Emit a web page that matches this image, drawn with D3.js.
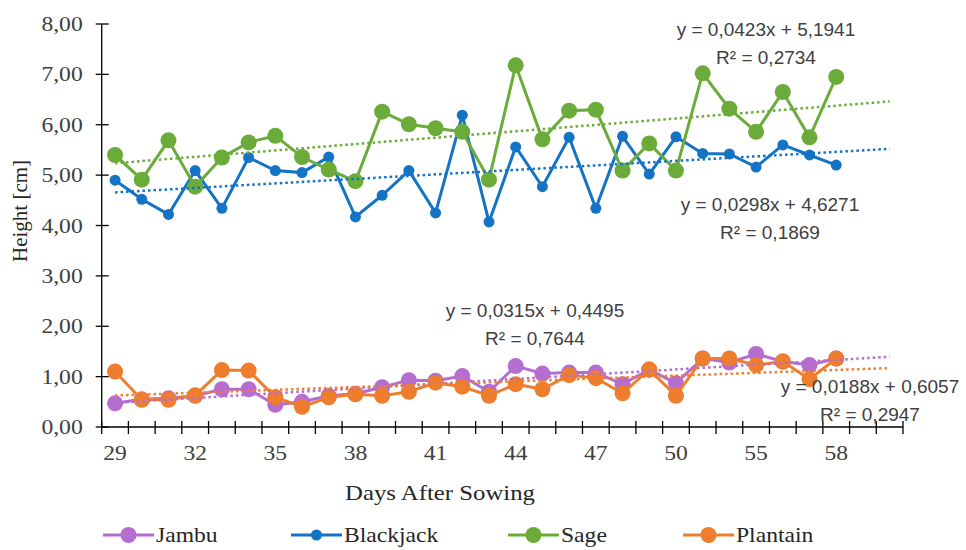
<!DOCTYPE html>
<html>
<head>
<meta charset="utf-8">
<script src="https://cdn.jsdelivr.net/npm/d3@7"></script>
<style>
  body { margin: 0; background: #fff; }
</style>
</head>
<body>
<div id="chart"></div>
<script>
// days on x axis (last two are the forecast slots of the trendlines)
const days = ["29","30","31","32","33","34","35","36","37","38","39","40","41","42","43",
  "44","45","46","47","48","49","50","51","53","55","56","57","58"];
const forecastDays = ["59","60"];
const tickLabels = ["29","32","35","38","41","44","47","50","55","58"];
const yTicks = [0,1,2,3,4,5,6,7,8];

const seriesNames = ["Jambu","Blackjack","Sage","Plantain"];
const jambu = [0.47,0.55,0.57,0.62,0.75,0.75,0.44,0.50,0.62,0.66,0.79,0.93,0.92,1.01,0.70,
  1.21,1.06,1.08,1.08,0.85,1.14,0.87,1.36,1.28,1.45,1.30,1.23,1.36];
const blackjack = [4.90,4.52,4.22,5.09,4.34,5.35,5.09,5.05,5.36,4.17,4.60,5.09,4.25,6.19,4.07,
  5.56,4.77,5.75,4.34,5.77,5.02,5.76,5.43,5.42,5.16,5.60,5.40,5.20];
const sage = [5.40,4.91,5.69,4.77,5.35,5.65,5.78,5.36,5.11,4.88,6.26,6.01,5.93,5.86,4.91,
  7.18,5.71,6.28,6.30,5.09,5.63,5.09,7.02,6.32,5.86,6.65,5.75,6.95];
const plantain = [1.10,0.54,0.54,0.63,1.13,1.12,0.59,0.40,0.59,0.65,0.62,0.70,0.88,0.80,0.62,
  0.85,0.75,1.03,0.97,0.67,1.14,0.62,1.36,1.36,1.23,1.30,0.95,1.36];

// trendline equations as printed on the chart
const trendSlope = [0.0315, 0.0298, 0.0423, 0.0188];
const trendIntercept = [0.4495, 4.6271, 5.1941, 0.6057];
const trendEq = ["y = 0,0315x + 0,4495","y = 0,0298x + 4,6271","y = 0,0423x + 5,1941","y = 0,0188x + 0,6057"];
const trendR2 = ["R² = 0,7644","R² = 0,1869","R² = 0,2734","R² = 0,2947"];

const colors = ["#b66dd0","#1573c5","#6aab3a","#ee7d2e"];
const markerR = [8, 5.5, 8, 8];
const allSeries = [jambu, blackjack, sage, plantain];

const width = 966, height = 550;
const margin = { top: 24, right: 63, bottom: 123, left: 101.7 };
const serif = "Liberation Serif";

const svg = d3.select("#chart").append("svg")
  .attr("width", width)
  .attr("height", height);

const xScale = d3.scaleBand()
  .domain(days.concat(forecastDays))
  .range([margin.left, width - margin.right]);

const yScale = d3.scaleLinear()
  .domain([0, 8])
  .range([height - margin.bottom, margin.top]);

const xc = d => xScale(d) + xScale.bandwidth() / 2;

// text slightly stretched sideways like in the picture
function wideText(parent, x, y, txt, size, anchor, family, fill) {
  parent.append("g")
    .attr("transform", `translate(${x},${y}) scale(1.18,1)`)
    .append("text")
    .attr("text-anchor", anchor)
    .style("font-family", family)
    .style("font-size", size + "px")
    .attr("fill", fill)
    .text(txt);
}

// y axis
const yAxis = svg.append("g").attr("transform", `translate(${margin.left},0)`);
yAxis.append("line")
  .attr("y1", yScale(8)).attr("y2", yScale(0))
  .attr("stroke", "#000").attr("stroke-width", 1.3);
yTicks.forEach(t => {
  yAxis.append("line")
    .attr("x1", -6).attr("x2", 7)
    .attr("y1", yScale(t)).attr("y2", yScale(t))
    .attr("stroke", "#000").attr("stroke-width", 1.3);
  wideText(yAxis, -19, yScale(t) + 7, d3.format(".2f")(t).replace(".", ","), 20, "end", serif, "#404040");
});

// x axis
const xAxis = svg.append("g")
  .attr("transform", `translate(0,${height - margin.bottom})`);
xAxis.append("line")
  .attr("x1", margin.left).attr("x2", width - margin.right)
  .attr("stroke", "#000").attr("stroke-width", 1.3);
xAxis.selectAll(".xt")
  .data(d3.range(xScale.domain().length + 1))
  .enter().append("line")
  .attr("x1", i => margin.left + i * xScale.step())
  .attr("x2", i => margin.left + i * xScale.step())
  .attr("y1", -6).attr("y2", 7)
  .attr("stroke", "#000").attr("stroke-width", 1.3);
tickLabels.forEach(d => {
  wideText(xAxis, xc(d), 33, d, 20, "middle", serif, "#404040");
});

wideText(svg, 440, 500, "Days After Sowing", 21, "middle", serif, "#262626");

svg.append("text")
  .attr("transform", "translate(27,211) rotate(-90)")
  .attr("text-anchor", "middle")
  .style("font-family", serif).style("font-size", "21px")
  .attr("fill", "#262626")
  .text("Height [cm]");

// series
const line = d3.line().x((v, i) => xc(days[i])).y(v => yScale(v));
allSeries.forEach((vals, s) => {
  svg.append("path")
    .datum(vals)
    .attr("d", line)
    .attr("fill", "none")
    .attr("stroke", colors[s])
    .attr("stroke-width", 3);
  svg.selectAll(".m" + s)
    .data(vals)
    .enter().append("circle")
    .attr("cx", (v, i) => xc(days[i]))
    .attr("cy", v => yScale(v))
    .attr("r", markerR[s])
    .attr("fill", colors[s]);
});

// trendlines (x = 1..30)
const trendX = d3.range(1, xScale.domain().length + 1);
allSeries.forEach((vals, s) => {
  const pts = [trendX[0], trendX[trendX.length - 1]];
  svg.append("line")
    .attr("x1", xc(xScale.domain()[pts[0] - 1]))
    .attr("x2", xc(xScale.domain()[pts[1] - 1]))
    .attr("y1", yScale(trendSlope[s] * pts[0] + trendIntercept[s]))
    .attr("y2", yScale(trendSlope[s] * pts[1] + trendIntercept[s]))
    .attr("stroke", colors[s])
    .attr("stroke-width", 2.5)
    .attr("stroke-dasharray", "2.5,3");
});

// equation labels
const eqPos = [[535, 317], [770, 211], [766, 36], [870, 393]];
eqPos.forEach((p, s) => {
  const g = svg.append("g")
    .style("font-family", "Liberation Sans").style("font-size", "19px")
    .attr("fill", "#404040")
    .attr("text-anchor", "middle");
  g.append("text").attr("x", p[0]).attr("y", p[1]).text(trendEq[s]);
  g.append("text").attr("x", p[0]).attr("y", p[1] + 28).text(trendR2[s]);
});

// legend
const legendX = [103, 291, 508, 683];
seriesNames.forEach((name, s) => {
  const g = svg.append("g").attr("transform", `translate(${legendX[s]},535)`);
  g.append("line").attr("x1", 0).attr("x2", 51)
    .attr("stroke", colors[s]).attr("stroke-width", 3);
  g.append("circle").attr("cx", 25.5).attr("r", markerR[s]).attr("fill", colors[s]);
  wideText(g, 53, 7, name, 20, "start", serif, "#262626");
});
</script>
</body>
</html>
